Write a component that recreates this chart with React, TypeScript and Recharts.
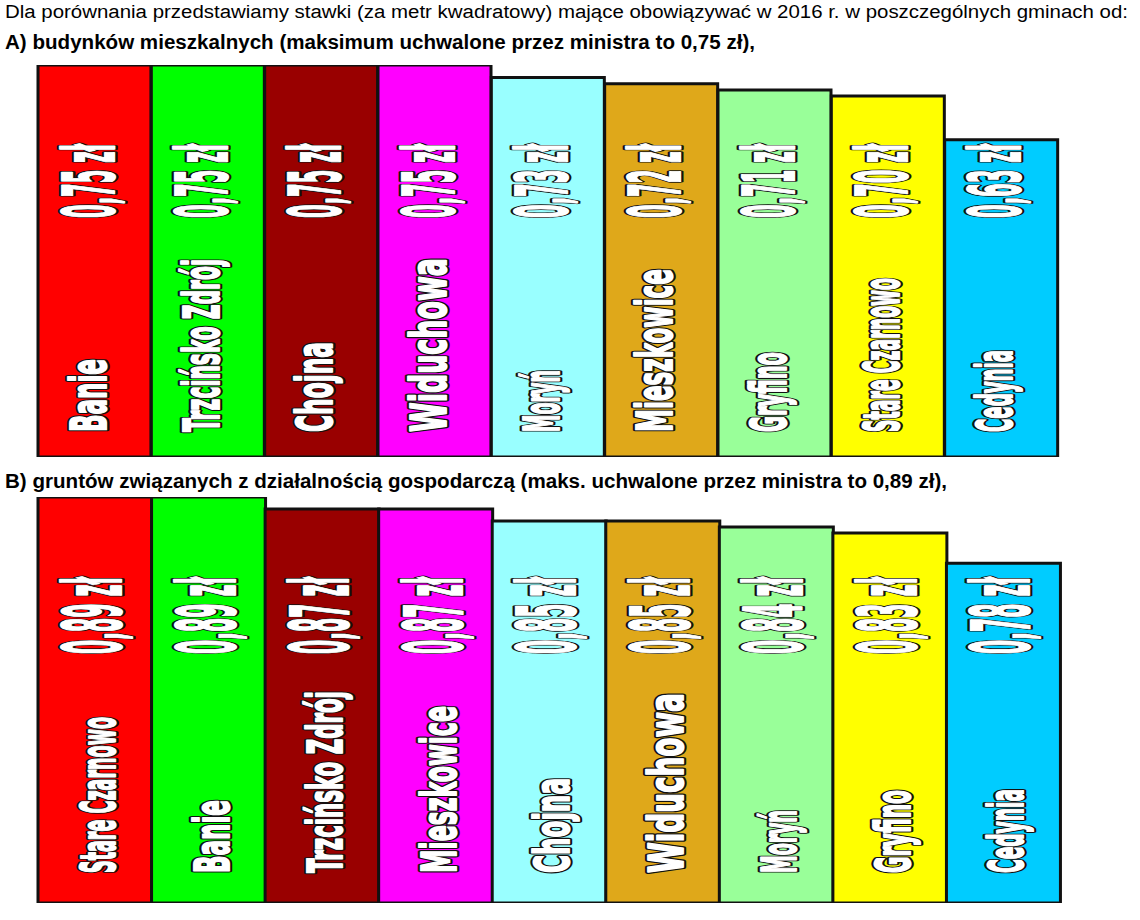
import React from 'react';
import { BarChart, Bar, XAxis, YAxis, Cell, LabelList } from 'recharts';

// A) budynki mieszkalne
const TOWNS_A = ['Banie', 'Trzcińsko Zdrój', 'Chojna', 'Widuchowa', 'Moryń', 'Mieszkowice', 'Gryfino', 'Stare Czarnowo', 'Cedynia'];
const RATES_A = [0.75, 0.75, 0.75, 0.75, 0.73, 0.72, 0.71, 0.7, 0.63];

// B) grunty związane z działalnością gospodarczą
const TOWNS_B = ['Stare Czarnowo', 'Banie', 'Trzcińsko Zdrój', 'Mieszkowice', 'Chojna', 'Widuchowa', 'Moryń', 'Gryfino', 'Cedynia'];
const RATES_B = [0.89, 0.89, 0.87, 0.87, 0.85, 0.85, 0.84, 0.83, 0.78];

const HEADER = 'Dla porównania przedstawiamy stawki (za metr kwadratowy) mające obowiązywać w 2016 r. w poszczególnych gminach od:';
const TITLE_A = 'A) budynków mieszkalnych (maksimum uchwalone przez ministra to 0,75 zł),';
const TITLE_B = 'B) gruntów związanych z działalnością gospodarczą (maks. uchwalone przez ministra to 0,89 zł),';

// colour goes by position, not by town
const COLORS = ['#FF0000', '#00FF00', '#990000', '#FF00FF', '#99FFFF', '#DFA81A', '#99FF99', '#FFFF00', '#00CCFF'];

// rendered length of the town names (px), per bar
const NAME_LEN_A = [73, 173, 90, 174, 62, 163, 80, 154, 82];
const NAME_LEN_B = [156, 73, 182, 167, 95, 180, 63, 83, 84];

const FONT = '"DejaVu Sans", sans-serif';
const fmt = (v: number) => `${v.toFixed(2).replace('.', ',')} zł`;

let ctx: CanvasRenderingContext2D | null = null;
function measure(str: string, size: number) {
  if (!ctx) ctx = document.createElement('canvas').getContext('2d');
  if (!ctx) return str.length * size * 0.6;
  ctx.font = `bold ${size}px "DejaVu Sans"`;
  return ctx.measureText(str).width || str.length * size * 0.6;
}

type Cfg = {
  top: number;
  height: number;
  margin: { top: number; right: number; bottom: number; left: number };
  domain: [number, number];
  valueSize: number;
  valueLen: number;
  valueUp: number;
  valueShift: number;
  nameSize: number;
  nameUp: number;
  nameShift: number;
  nameLen: number[];
};

const CFG_A: Cfg = {
  top: 0,
  height: 460,
  margin: { top: 65, right: 82, bottom: 3, left: 38 },
  domain: [0.12, 0.75],
  valueSize: 72,
  valueLen: 74,
  valueUp: 239,
  valueShift: 19,
  nameSize: 50,
  nameUp: 25,
  nameShift: 11,
  nameLen: NAME_LEN_A,
};

const CFG_B: Cfg = {
  top: 440,
  height: 468,
  margin: { top: 57, right: 80, bottom: 5, left: 38 },
  domain: [0.215, 0.89],
  valueSize: 80,
  valueLen: 77,
  valueUp: 249,
  valueShift: 26,
  nameSize: 48,
  nameUp: 30,
  nameShift: 20,
  nameLen: NAME_LEN_B,
};

// white, heavy, outlined text squeezed along its baseline
function SqueezedText({ cx, cy, size, len, str }: { cx: number; cy: number; size: number; len: number; str: string }) {
  const sx = len / measure(str, size);
  const common = {
    transform: `translate(${cx},${cy}) rotate(-90) scale(${sx},1)`,
    fontFamily: FONT,
    fontWeight: 'bold' as const,
    fontSize: size,
    vectorEffect: 'non-scaling-stroke' as const,
    strokeLinejoin: 'round' as const,
  };
  return (
    <g>
      <text {...common} fill="#111" stroke="#111" strokeWidth={5}>
        {str}
      </text>
      <text {...common} fill="#fff" stroke="#fff" strokeWidth={1.6}>
        {str}
      </text>
    </g>
  );
}

function RateChart({ towns, rates, cfg }: { towns: string[]; rates: number[]; cfg: Cfg }) {
  const data = towns.map((name, i) => ({ name, rate: rates[i] }));

  const valueLabel = (p: any) => (
    <SqueezedText
      cx={Number(p.x) + Number(p.width) / 2 + cfg.valueShift}
      cy={Number(p.y) + Number(p.height) - cfg.valueUp}
      size={cfg.valueSize}
      len={cfg.valueLen}
      str={fmt(Number(p.value))}
    />
  );

  const nameLabel = (p: any) => (
    <SqueezedText
      cx={Number(p.x) + Number(p.width) / 2 + cfg.nameShift}
      cy={Number(p.y) + Number(p.height) - cfg.nameUp}
      size={cfg.nameSize}
      len={cfg.nameLen[p.index] ?? 100}
      str={String(p.value)}
    />
  );

  return (
    <div style={{ position: 'absolute', left: 0, top: cfg.top }}>
      <BarChart width={1140} height={cfg.height} data={data} margin={cfg.margin} barCategoryGap={0}>
        <XAxis dataKey="name" type="category" hide />
        <YAxis type="number" domain={cfg.domain} allowDataOverflow hide />
        <Bar dataKey="rate" stroke="#111" strokeWidth={3} isAnimationActive={false}>
          {data.map((d, i) => (
            <Cell key={d.name + i} fill={COLORS[i]} />
          ))}
          <LabelList dataKey="rate" content={valueLabel} />
          <LabelList dataKey="name" content={nameLabel} />
        </Bar>
      </BarChart>
    </div>
  );
}

export default function App() {
  return (
    <div style={{ position: 'absolute', left: 0, top: 0, width: 1140, height: 920, background: '#fff' }}>
      <svg width={1140} height={60} style={{ position: 'absolute', left: 0, top: 0 }}>
        <text x={5} y={18} fontFamily='"Liberation Sans", Arial, sans-serif' fontSize={18} textLength={1123} lengthAdjust="spacingAndGlyphs" fill="#000">
          {HEADER}
        </text>
        <text x={5} y={49} fontFamily='"Liberation Sans", Arial, sans-serif' fontWeight="bold" fontSize={20} textLength={750} lengthAdjust="spacingAndGlyphs" fill="#000">
          {TITLE_A}
        </text>
      </svg>
      <RateChart towns={TOWNS_A} rates={RATES_A} cfg={CFG_A} />
      <svg width={1140} height={30} style={{ position: 'absolute', left: 0, top: 466 }}>
        <text x={5} y={22} fontFamily='"Liberation Sans", Arial, sans-serif' fontWeight="bold" fontSize={20} textLength={942} lengthAdjust="spacingAndGlyphs" fill="#000">
          {TITLE_B}
        </text>
      </svg>
      <RateChart towns={TOWNS_B} rates={RATES_B} cfg={CFG_B} />
    </div>
  );
}
